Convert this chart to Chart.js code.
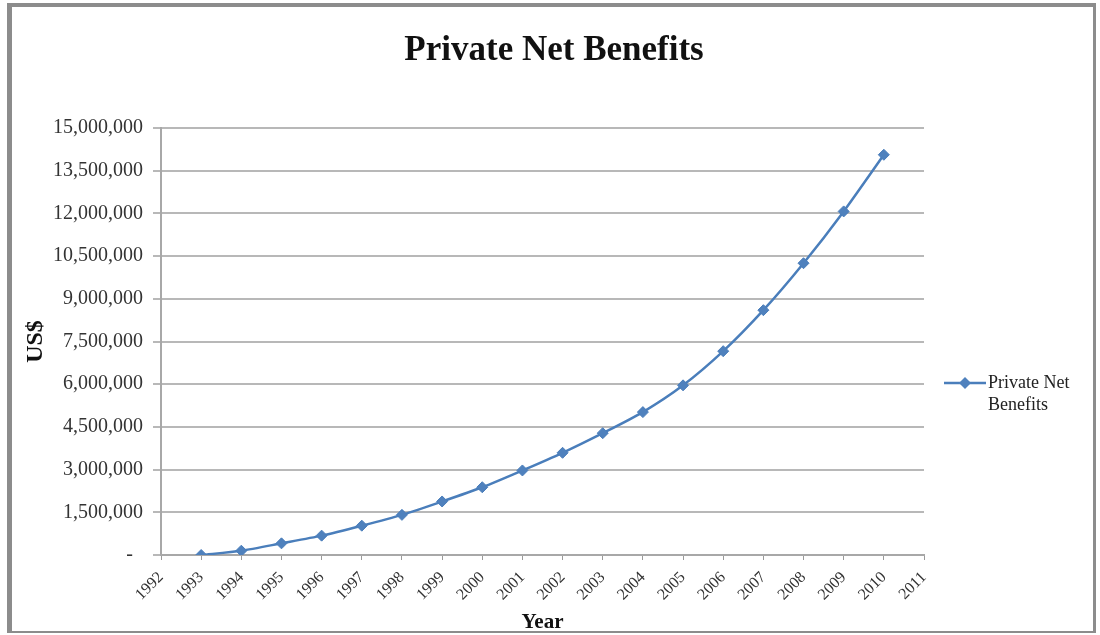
<!DOCTYPE html>
<html>
<head>
<meta charset="utf-8">
<script src="https://cdn.jsdelivr.net/npm/chart.js@4/dist/chart.umd.min.js"></script>
<style>
    html, body { margin: 0; padding: 0; background: #fff; }
    #wrap { width: 1100px; height: 635px; }
</style>
</head>
<body>
<div id="wrap"><canvas id="benefitsChart" width="1100" height="635"></canvas></div>
<script>
const years = ["1992", "1993", "1994", "1995", "1996", "1997", "1998", "1999", "2000", "2001",
    "2002", "2003", "2004", "2005", "2006", "2007", "2008", "2009", "2010", "2011"];
const benefits = [null, 0, 150000, 410000, 680000, 1030000, 1410000, 1880000, 2380000, 2970000,
    3590000, 4280000, 5020000, 5960000, 7160000, 8600000, 10250000, 12070000, 14060000, null];
const seriesName = "Private Net Benefits";
const yMax = 15000000;
const yStep = 1500000;

const serif = "'Liberation Serif', 'Times New Roman', serif";
const lineBlue = "#4a7ebb";
const markerBlue = "#4f81bd";

// white page, grey frame and the legend off to the right
const framePlugin = {
    id: "frame",
    beforeDraw(chart) {
        const ctx = chart.ctx;
        ctx.save();
        ctx.fillStyle = "#fff";
        ctx.fillRect(0, 0, chart.width, chart.height);
        ctx.restore();
    },
    afterDraw(chart) {
        const ctx = chart.ctx;
        ctx.save();
        ctx.fillStyle = "#8c8c8c";
        ctx.fillRect(7, 3, 1089, 4);
        ctx.fillRect(7, 3, 5, 630);
        ctx.fillRect(1093, 3, 3, 630);
        ctx.fillRect(7, 631, 1089, 2);

        // legend
        const ds = chart.data.datasets[0];
        const y = 383;
        ctx.strokeStyle = ds.borderColor;
        ctx.lineWidth = 2.5;
        ctx.beginPath();
        ctx.moveTo(944, y);
        ctx.lineTo(986, y);
        ctx.stroke();
        ctx.fillStyle = ds.pointBackgroundColor;
        ctx.beginPath();
        ctx.moveTo(965, y - 6);
        ctx.lineTo(971, y);
        ctx.lineTo(965, y + 6);
        ctx.lineTo(959, y);
        ctx.closePath();
        ctx.fill();

        ctx.font = "18px " + serif;
        ctx.fillStyle = "#222";
        ctx.textBaseline = "middle";
        const words = ds.label.split(" ");
        const lines = [];
        let cur = "";
        words.forEach(w => {
            const test = cur ? cur + " " + w : w;
            if (cur && ctx.measureText(test).width > 95) {
                lines.push(cur);
                cur = w;
            } else {
                cur = test;
            }
        });
        lines.push(cur);
        lines.forEach((t, i) => ctx.fillText(t, 988, y + i * 22));
        ctx.restore();
    }
};

new Chart(document.getElementById("benefitsChart"), {
    type: "line",
    data: {
        labels: years,
        datasets: [{
            label: seriesName,
            data: benefits,
            borderColor: lineBlue,
            borderWidth: 2.5,
            tension: 0.25,
            pointStyle: "rectRot",
            pointRadius: 5.5,
            pointBackgroundColor: markerBlue,
            pointBorderColor: lineBlue,
            pointBorderWidth: 1
        }]
    },
    options: {
        responsive: false,
        animation: false,
        layout: { padding: { left: 8, right: 0, top: 0, bottom: 0 } },
        plugins: {
            legend: { display: false },
            tooltip: { enabled: false },
            title: {
                display: true,
                text: "Private Net Benefits",
                color: "#111",
                font: { family: serif, size: 35, weight: "bold" },
                padding: { top: 30, bottom: 56 }
            }
        },
        scales: {
            x: {
                offset: false,
                afterFit(scale) { scale.height = 80; },
                grid: {
                    drawOnChartArea: false,
                    drawTicks: true,
                    tickLength: 5,
                    color: "#9a9a9a"
                },
                border: { color: "#a8a8a8", width: 2 },
                ticks: {
                    autoSkip: false,
                    minRotation: 45,
                    maxRotation: 45,
                    padding: 8,
                    color: "#333",
                    font: { family: serif, size: 16 }
                },
                title: {
                    display: true,
                    text: "Year",
                    color: "#111",
                    font: { family: serif, size: 21, weight: "bold" },
                    padding: { top: 0, bottom: 0 }
                }
            },
            y: {
                min: 0,
                max: yMax,
                afterFit(scale) { scale.width = 153; },
                grid: {
                    color: "#b8b8b8",
                    lineWidth: 2,
                    tickLength: 8
                },
                border: { color: "#a8a8a8", width: 2 },
                ticks: {
                    stepSize: yStep,
                    padding: 10,
                    color: "#333",
                    font: { family: serif, size: 20 },
                    callback: v => v === 0 ? "-  " : v.toLocaleString("en-US")
                },
                title: {
                    display: true,
                    text: "US$",
                    color: "#111",
                    font: { family: serif, size: 24, weight: "bold" },
                    padding: { top: 13, bottom: 0 }
                }
            },
            // empty strip on the right that holds the legend
            legendSpace: {
                type: "linear",
                position: "right",
                afterFit(scale) { scale.width = 176; },
                grid: { display: false },
                border: { display: false },
                ticks: { display: false }
            }
        }
    },
    plugins: [framePlugin]
});
</script>
</body>
</html>
